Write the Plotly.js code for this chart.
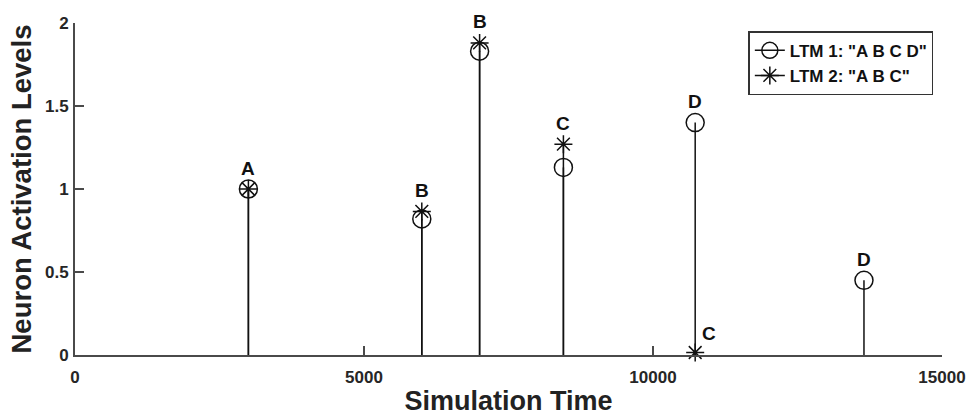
<!DOCTYPE html>
<html>
<head>
<meta charset="utf-8">
<script src="https://cdn.plot.ly/plotly-3.0.1.min.js"></script>
<style>html,body{margin:0;padding:0;background:#fff;}#chart{width:968px;height:419px;}</style>
</head>
<body>
<div id="chart"></div>
<script>
// ---- data ----
const times1  = [3000, 6000, 7000, 8450, 10730, 13650];
const ltm1    = [1.00, 0.82, 1.83, 1.13, 1.40, 0.45];
const labels1 = ['A', 'B', 'B', 'C', 'D', 'D'];

const times2  = [3000, 6000, 7000, 8450, 10730];
const ltm2    = [1.00, 0.865, 1.88, 1.27, 0.015];
const labels2 = ['A', 'B', 'B', 'C', 'C'];

const seriesNames = ['LTM 1: "A B C D"', 'LTM 2: "A B C"'];
const xTicks = [0, 5000, 10000, 15000];
const yTicks = [0, 0.5, 1, 1.5, 2];

const FONT = 'Liberation Sans, Arial, Helvetica, sans-serif';
const INK = '#111111';

function stemTrace(x, y, symbol, size) {
  return {
    type: 'scatter', mode: 'markers', x: x, y: y, showlegend: false, cliponaxis: false,
    marker: {symbol: symbol, size: size, color: INK, line: {color: INK, width: 1.5}},
    error_y: {type: 'data', symmetric: false, array: y.map(() => 0), arrayminus: y,
              width: 0, thickness: 1.5, color: INK},
    hoverinfo: 'x+y'
  };
}
function legendTrace(name, symbol, size) {
  return {
    type: 'scatter', mode: 'lines+markers', x: [null], y: [null], name: name,
    line: {color: INK, width: 1.5},
    marker: {symbol: symbol, size: size, color: INK, line: {color: INK, width: 1.5}}
  };
}

const traces = [
  stemTrace(times1, ltm1, 'circle-open', 18),
  stemTrace(times2, ltm2, 'asterisk-open', 15),
  legendTrace(seriesNames[0], 'circle-open', 16),
  legendTrace(seriesNames[1], 'asterisk-open', 15)
];

// ---- letter labels: above the topmost marker, lower distinct label to the right ----
const pts = {};
times1.forEach((t, i) => { (pts[t] = pts[t] || []).push({y: ltm1[i], l: labels1[i]}); });
times2.forEach((t, i) => { (pts[t] = pts[t] || []).push({y: ltm2[i], l: labels2[i]}); });
const annotations = [];
Object.keys(pts).forEach(k => {
  const arr = pts[k].slice().sort((a, b) => b.y - a.y);
  const t = Number(k);
  annotations.push({x: t, y: arr[0].y, text: arr[0].l, showarrow: false,
    xref: 'x', yref: 'y', yanchor: 'middle', yshift: 21,
    font: {family: FONT, size: 19, color: INK, weight: 'bold'}});
  for (let j = 1; j < arr.length; j++) {
    if (arr[j].l !== arr[0].l) {
      annotations.push({x: t, y: arr[j].y, text: arr[j].l, showarrow: false,
        xref: 'x', yref: 'y', yanchor: 'middle', xanchor: 'center', xshift: 14, yshift: 19,
        font: {family: FONT, size: 19, color: INK, weight: 'bold'}});
    }
  }
});

const axisCommon = {
  showgrid: false, zeroline: false, showline: true, linecolor: '#4a4a4a', linewidth: 2,
  ticks: 'inside', ticklen: 9, tickwidth: 1.3, tickcolor: '#4a4a4a',
  tickfont: {family: FONT, size: 17, color: '#262626', weight: 'bold'},
  mirror: false
};

const layout = {
  width: 968, height: 419,
  margin: {l: 75, r: 26, t: 23, b: 64},
  paper_bgcolor: '#ffffff', plot_bgcolor: '#ffffff',
  showlegend: true,
  legend: {x: 0.99, xanchor: 'right', y: 0.975, yanchor: 'top',
    bordercolor: '#333333', borderwidth: 1.5, bgcolor: '#ffffff',
    font: {family: FONT, size: 17, color: INK, weight: 'bold'},
    tracegroupgap: 0, itemwidth: 30},
  xaxis: Object.assign({}, axisCommon, {
    range: [0, 15000], tickmode: 'array', tickvals: xTicks, ticktext: xTicks.map(String),
    ticklabelstandoff: 6,
    title: {text: 'Simulation Time', standoff: 5,
      font: {family: FONT, size: 27, color: '#222222', weight: 'bold'}}
  }),
  yaxis: Object.assign({}, axisCommon, {
    range: [0, 2], tickmode: 'array', tickvals: yTicks, ticktext: yTicks.map(String),
    ticklabelstandoff: 1,
    title: {text: 'Neuron Activation Levels', standoff: 5,
      font: {family: FONT, size: 27.5, color: '#222222', weight: 'bold'}}
  }),
  annotations: annotations
};

Plotly.newPlot('chart', traces, layout, {displayModeBar: false, staticPlot: true});
</script>
</body>
</html>
